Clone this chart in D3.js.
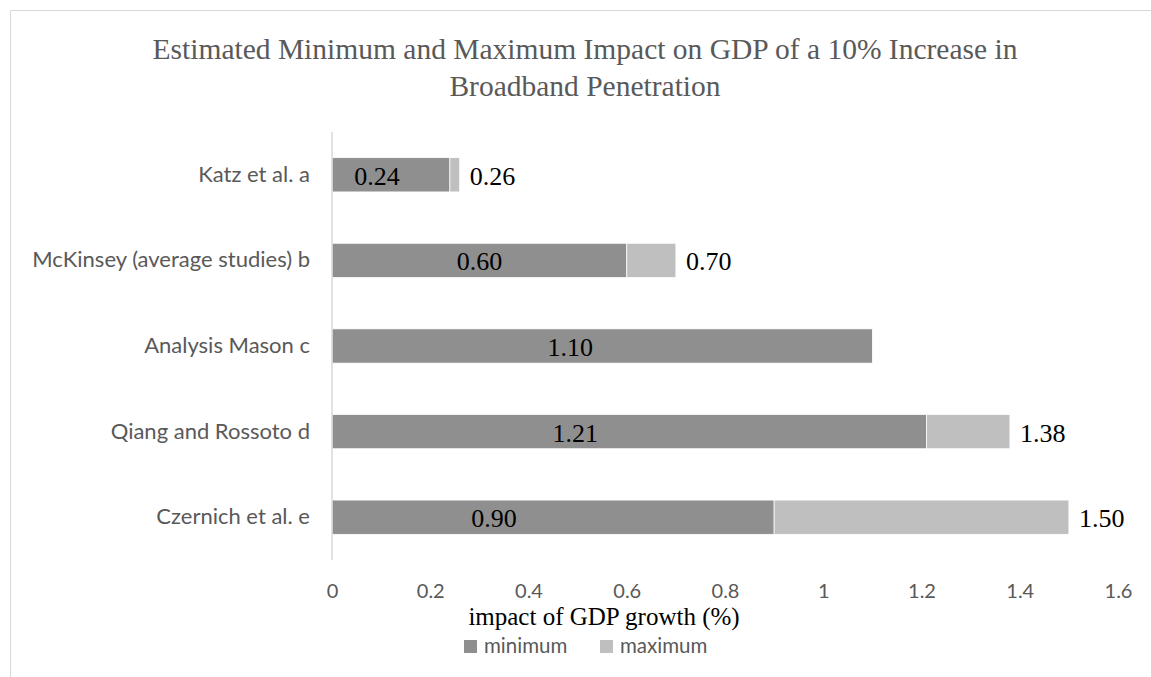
<!DOCTYPE html>
<html>
<head>
<meta charset="utf-8">
<script src="https://cdn.jsdelivr.net/npm/d3@7"></script>
<style>
  html, body { margin: 0; padding: 0; background: #fff; }
  svg { display: block; }
</style>
</head>
<body>
<svg id="chart" width="1151" height="677"></svg>
<script>
const categories = ["Katz et al. a", "McKinsey (average studies) b", "Analysis Mason c", "Qiang and Rossoto d", "Czernich et al. e"];
const minimum = [0.24, 0.60, 1.10, 1.21, 0.90];
const maximum = [0.26, 0.70, 1.10, 1.38, 1.50];
const xTicks = [0, 0.2, 0.4, 0.6, 0.8, 1, 1.2, 1.4, 1.6];
const seriesNames = ["minimum", "maximum"];
const titleLines = ["Estimated Minimum and Maximum Impact on GDP of a 10% Increase in", "Broadband Penetration"];
const xTitle = "impact of GDP growth (%)";

// styles
const colors = ["#8f8f8f", "#bfbfbf"];
// horizontal nudges (px) of the manually placed minimum labels
const minLabelNudge = [-14, 0, -32, -54, -59];

const svg = d3.select("#chart");
const sans = "Lato, 'Open Sans', sans-serif";
const serif = "'Liberation Serif', 'Times New Roman', serif";

// chart border
svg.append("path")
  .attr("d", "M10.5,677 L10.5,10.5 L1151,10.5")
  .attr("fill", "none").attr("stroke", "#d9d9d9").attr("stroke-width", 1);

// title
svg.append("text")
  .attr("x", 585).attr("y", 59)
  .attr("text-anchor", "middle")
  .attr("font-family", serif).attr("font-size", 29.5).attr("fill", "#595959")
  .selectAll("tspan").data(titleLines).join("tspan")
  .attr("x", 585).attr("dy", (d, i) => i === 0 ? 0 : 37)
  .text(d => d);

const x = d3.scaleLinear().domain([0, 1.6]).range([332, 1118]);
const y = d3.scaleBand().domain(categories).range([132, 560]).paddingInner(0.6).paddingOuter(0.3);

const rows = categories.map((c, i) => ({ cat: c, min: minimum[i], max: maximum[i], i }));
const stack = d3.stack().keys(["a", "b"])(rows.map(r => ({ cat: r.cat, a: r.min, b: r.max - r.min })));

// bars
stack.forEach((layer, li) => {
  svg.append("g").selectAll("rect").data(layer).join("rect")
    .attr("x", d => x(d[0]))
    .attr("y", d => y(d.data.cat))
    .attr("width", d => Math.max(0, x(d[1]) - x(d[0])))
    .attr("height", y.bandwidth())
    .attr("fill", colors[li])
    .attr("stroke", d => (d[1] - d[0]) > 0 ? "#ffffff" : "none")
    .attr("stroke-width", 0.75);
});

// vertical axis line
svg.append("line")
  .attr("x1", x(0)).attr("x2", x(0))
  .attr("y1", 132).attr("y2", 560)
  .attr("stroke", "#d9d9d9").attr("stroke-width", 1.5);

// category labels
const yAxis = d3.axisLeft(y).tickSize(0).tickPadding(22);
const yg = svg.append("g").attr("transform", `translate(${x(0)},0)`).call(yAxis);
yg.select(".domain").remove();
yg.selectAll("text").attr("font-family", sans).attr("font-size", 22).attr("fill", "#595959");

// x axis tick labels
const xAxis = d3.axisBottom(x).tickValues(xTicks).tickSize(0).tickPadding(0).tickFormat(d3.format("~g"));
const xg = svg.append("g").attr("transform", `translate(0,584)`).call(xAxis);
xg.select(".domain").remove();
xg.selectAll("text").attr("font-family", sans).attr("font-size", 20).attr("fill", "#595959");

// data labels: minimum
svg.append("g").selectAll("text").data(rows).join("text")
  .attr("x", d => (x(0) + x(d.min)) / 2 + minLabelNudge[d.i])
  .attr("y", d => y(d.cat) + y.bandwidth() / 2 + 10)
  .attr("text-anchor", "middle")
  .attr("font-family", serif).attr("font-size", 26).attr("fill", "#000")
  .text(d => d3.format(".2f")(d.min));

// data labels: maximum at bar end
svg.append("g").selectAll("text").data(rows.filter(r => r.max > r.min)).join("text")
  .attr("x", d => x(d.max) + 10)
  .attr("y", d => y(d.cat) + y.bandwidth() / 2 + 10)
  .attr("font-family", serif).attr("font-size", 26).attr("fill", "#000")
  .text(d => d3.format(".2f")(d.max));

// x axis title
svg.append("text")
  .attr("x", 604).attr("y", 625)
  .attr("text-anchor", "middle")
  .attr("font-family", serif).attr("font-size", 25).attr("fill", "#000")
  .text(xTitle);

// legend
const legend = svg.append("g");
const legendX = [464, 600];
seriesNames.forEach((name, i) => {
  legend.append("rect")
    .attr("x", legendX[i]).attr("y", 640).attr("width", 13).attr("height", 13)
    .attr("fill", colors[i]);
  legend.append("text")
    .attr("x", legendX[i] + 20).attr("y", 653)
    .attr("font-family", sans).attr("font-size", 20.5).attr("fill", "#595959")
    .text(name);
});
</script>
</body>
</html>
